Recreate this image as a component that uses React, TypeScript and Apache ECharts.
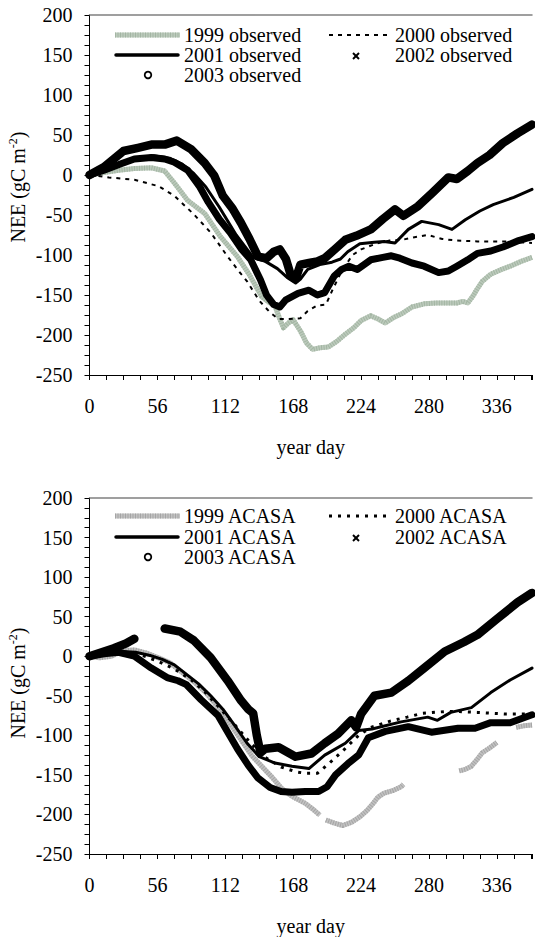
import React, { useEffect, useRef } from "react";
import * as echarts from "echarts";

const FONT = "Liberation Serif";

// x: year day, y: NEE (gC m-2)
const xTicks = [0, 56, 112, 168, 224, 280, 336];
const yTicks = [-250, -200, -150, -100, -50, 0, 50, 100, 150, 200];

// ---- observed (top panel) ----
const obs1999 = [[0,0],[12,3],[24,6],[37,8],[51,9],[62,5],[70,-10],[81,-32],[95,-48],[108,-77],[122,-102],[132,-125],[142,-152],[147,-158],[153,-164],[157,-180],[160,-191],[164,-185],[168,-181],[174,-195],[179,-210],[184,-218],[190,-216],[197,-215],[204,-208],[211,-199],[218,-191],[224,-182],[232,-176],[238,-180],[244,-185],[251,-178],[258,-173],[266,-165],[276,-161],[286,-160],[296,-160],[303,-160],[308,-158],[312,-160],[316,-152],[320,-142],[324,-133],[331,-124],[340,-118],[347,-114],[356,-108],[365,-103]];
const obs2000 = [[0,0],[16,-3],[37,-6],[57,-14],[70,-26],[86,-49],[100,-72],[113,-100],[123,-120],[130,-133],[140,-157],[149,-172],[156,-180],[164,-180],[174,-179],[180,-170],[188,-163],[195,-162],[200,-145],[208,-120],[217,-100],[224,-93],[236,-86],[247,-82],[258,-81],[267,-78],[279,-75],[291,-80],[303,-82],[320,-83],[331,-83],[347,-83],[365,-85]];
const obs2001 = [[0,0],[14,7],[27,15],[39,21],[53,24],[66,21],[76,14],[86,2],[96,-15],[107,-40],[121,-75],[135,-103],[145,-108],[155,-117],[163,-128],[170,-135],[174,-130],[180,-118],[190,-112],[200,-109],[207,-105],[213,-96],[223,-86],[235,-84],[243,-83],[252,-85],[263,-68],[274,-58],[288,-62],[299,-68],[310,-56],[322,-45],[333,-37],[350,-28],[365,-18]];
const obs2002 = [[0,0],[12,6],[26,14],[37,20],[51,22],[62,20],[70,16],[81,6],[91,-15],[98,-34],[107,-55],[116,-72],[125,-92],[133,-106],[141,-131],[146,-150],[152,-162],[157,-165],[162,-156],[172,-148],[181,-144],[188,-150],[194,-147],[202,-126],[208,-118],[214,-114],[221,-118],[232,-106],[242,-103],[249,-101],[256,-104],[266,-110],[276,-114],[288,-122],[296,-120],[303,-114],[312,-106],[320,-98],[331,-95],[341,-90],[354,-82],[365,-77]];
const obs2003 = [[0,0],[12,10],[28,30],[40,34],[51,38],[62,38],[72,43],[84,32],[95,15],[103,-1],[110,-26],[118,-42],[125,-60],[132,-80],[139,-102],[146,-104],[152,-96],[157,-93],[162,-105],[166,-125],[170,-130],[174,-112],[181,-110],[188,-108],[194,-104],[203,-92],[211,-81],[220,-76],[232,-68],[242,-55],[252,-43],[259,-51],[271,-39],[283,-22],[296,-3],[303,-5],[312,5],[320,15],[330,25],[341,40],[353,52],[365,63]];

// ---- ACASA (bottom panel) ----
const aca1999 = [[0,0],[8,-2],[18,0],[28,7],[37,8],[47,4],[57,-2],[66,-8],[76,-20],[86,-32],[96,-46],[107,-66],[119,-92],[134,-126],[150,-152],[159,-168],[167,-177],[178,-186],[184,-193],[190,-201],[192,null],[195,-207],[202,-211],[209,-214],[216,-210],[223,-203],[229,-195],[234,-186],[238,-178],[243,-173],[250,-170],[257,-165],[259,-162],[282,null],[305,-145],[310,-143],[315,-139],[320,-130],[324,-122],[330,-116],[336,-109],[344,null],[352,-90],[358,-88],[365,-87]];
const aca2000 = [[0,0],[14,3],[28,5],[42,2],[56,-6],[70,-16],[84,-30],[95,-45],[106,-63],[120,-87],[133,-110],[145,-128],[158,-140],[170,-146],[178,-148],[188,-148],[198,-135],[210,-118],[222,-100],[232,-90],[248,-82],[262,-77],[275,-72],[293,-70],[305,-70],[320,-71],[342,-73],[365,-73]];
const aca2001 = [[0,0],[13,3],[26,6],[38,5],[50,1],[60,-4],[70,-11],[80,-23],[90,-35],[100,-50],[110,-67],[120,-88],[130,-110],[140,-127],[153,-135],[167,-139],[181,-142],[194,-125],[211,-110],[222,-94],[233,-92],[257,-83],[279,-77],[287,-81],[298,-71],[315,-65],[331,-46],[347,-30],[365,-15]];
const aca2002 = [[0,0],[12,3],[24,5],[37,0],[51,-15],[64,-27],[73,-31],[80,-36],[92,-55],[106,-75],[122,-117],[131,-138],[139,-154],[149,-166],[158,-171],[167,-172],[178,-171],[189,-171],[196,-165],[203,-150],[213,-136],[222,-125],[230,-103],[244,-95],[263,-89],[282,-96],[304,-91],[318,-91],[331,-84],[347,-84],[365,-74]];
const aca2003 = [[0,0],[10,5],[20,10],[30,16],[37,22],[50,null],[62,35],[75,31],[86,20],[100,-2],[114,-31],[125,-56],[131,-67],[135,-72],[138,-100],[141,-122],[145,-117],[156,-115],[170,-127],[183,-123],[194,-110],[205,-98],[216,-81],[220,-90],[224,-73],[235,-50],[249,-46],[263,-31],[276,-15],[293,6],[309,18],[320,27],[336,47],[353,68],[365,80]];

const topLabels = ["1999 observed", "2000 observed", "2001 observed", "2002 observed", "2003 observed"];
const bottomLabels = ["1999 ACASA", "2000 ACASA", "2001 ACASA", "2002 ACASA", "2003 ACASA"];

const GRIDS = [
  { top: 15, height: 360 },
  { top: 498, height: 361 },
];

const PAL = [
  { grayBase: "#bccabc", grayStripe: "#a3b5a3", dash: [4, 5], dashW: 2 },
  { grayBase: "#c2c2c2", grayStripe: "#a5a5a5", dash: [3, 6], dashW: 3 },
];

function xAxisFor(gi: number) {
  return {
    type: "value",
    gridIndex: gi,
    min: 0,
    max: 365,
    interval: 14,
    axisLine: { onZero: false, lineStyle: { color: "#000", width: 1 } },
    axisTick: { length: 5, lineStyle: { color: "#000", width: 1 } },
    axisLabel: {
      formatter: (v: number) => (xTicks.indexOf(v) >= 0 ? String(v) : ""),
      fontSize: 20,
      fontFamily: FONT,
      color: "#000",
      margin: 21,
    },
    splitLine: { show: false },
    name: "year day",
    nameLocation: "middle",
    nameGap: 62,
    nameTextStyle: { fontSize: 20, fontFamily: FONT, color: "#000" },
  };
}

function topBorderFor(gi: number) {
  return {
    type: "value",
    gridIndex: gi,
    position: "top",
    min: 0,
    max: 365,
    axisLine: { onZero: false, lineStyle: { color: "#808080", width: 1.5 } },
    axisTick: { show: false },
    axisLabel: { show: false },
    splitLine: { show: false },
  };
}

function yAxisFor(gi: number) {
  return {
    type: "value",
    gridIndex: gi,
    min: -250,
    max: 200,
    interval: 12.5,
    axisLine: { onZero: false, lineStyle: { color: "#000", width: 1 } },
    axisTick: { length: 5, lineStyle: { color: "#000", width: 1 } },
    axisLabel: {
      formatter: (v: number) => (yTicks.indexOf(v) >= 0 ? String(v) : ""),
      fontSize: 20,
      fontFamily: FONT,
      color: "#000",
      margin: 17,
    },
    splitLine: { show: false },
  };
}

function seriesFor(gi: number, names: string[], sets: any[][]) {
  const p = PAL[gi];
  const base = { type: "line", xAxisIndex: gi, yAxisIndex: gi, symbol: "none", silent: true, connectNulls: false };
  return [
    { ...base, name: names[0], data: sets[0], lineStyle: { color: p.grayBase, width: 5, cap: "butt", join: "round" } },
    { ...base, name: names[0] + " texture", data: sets[0], lineStyle: { color: p.grayStripe, width: 5, type: [1, 1.5], cap: "butt", join: "round" } },
    { ...base, name: names[1], data: sets[1], lineStyle: { color: "#000", width: p.dashW, type: p.dash, cap: "butt" } },
    { ...base, name: names[2], data: sets[2], lineStyle: { color: "#000", width: 3, cap: "round", join: "round" } },
    { ...base, name: names[3], data: sets[3], lineStyle: { color: "#000", width: 7, cap: "round", join: "round" } },
    { ...base, name: names[4], data: sets[4], lineStyle: { color: "#000", width: 8.5, cap: "round", join: "round" } },
  ];
}

function legendFor(gi: number, names: string[], rows: number[]) {
  const p = PAL[gi];
  const tx1 = 184, tx2 = 395;
  const txt = (x: number, y: number, s: string) => ({
    type: "text",
    x,
    y,
    style: { text: s, fontSize: 20, fontFamily: FONT, fill: "#000", textVerticalAlign: "middle", textAlign: "left" },
  });
  const xm = 356, ym = rows[1] + 1;
  return [
    { type: "line", shape: { x1: 115, y1: rows[0], x2: 180, y2: rows[0] }, style: { stroke: p.grayBase, lineWidth: 5 } },
    { type: "line", shape: { x1: 115, y1: rows[0], x2: 180, y2: rows[0] }, style: { stroke: p.grayStripe, lineWidth: 5, lineDash: [1, 1.5] } },
    txt(tx1, rows[0], names[0]),
    { type: "line", shape: { x1: 329, y1: rows[0], x2: 392, y2: rows[0] }, style: { stroke: "#000", lineWidth: p.dashW, lineDash: p.dash } },
    txt(tx2, rows[0], names[1]),
    { type: "line", shape: { x1: 116, y1: rows[1], x2: 178, y2: rows[1] }, style: { stroke: "#000", lineWidth: 3.5, lineCap: "round" } },
    txt(tx1, rows[1], names[2]),
    { type: "line", shape: { x1: xm - 3, y1: ym - 3, x2: xm + 3, y2: ym + 3 }, style: { stroke: "#000", lineWidth: 2 } },
    { type: "line", shape: { x1: xm - 3, y1: ym + 3, x2: xm + 3, y2: ym - 3 }, style: { stroke: "#000", lineWidth: 2 } },
    txt(tx2, rows[1], names[3]),
    { type: "circle", shape: { cx: 148, cy: rows[2], r: 3.3 }, style: { fill: "#fff", stroke: "#000", lineWidth: 1.8 } },
    txt(tx1, rows[2], names[4]),
  ];
}

function yNameFor(cy: number) {
  return {
    type: "text",
    x: 18,
    y: cy,
    rotation: Math.PI / 2,
    style: {
      text: "{a|NEE (gC m}{s|-2}{a|)}",
      rich: {
        a: { fontSize: 20, fontFamily: FONT, fill: "#000", lineHeight: 22 },
        s: { fontSize: 12, fontFamily: FONT, fill: "#000", verticalAlign: "top", lineHeight: 14 },
      },
      fontFamily: FONT,
      textAlign: "center",
      textVerticalAlign: "middle",
    },
  };
}

export default function App() {
  const ref = useRef<HTMLDivElement>(null);
  useEffect(() => {
    if (!ref.current) return;
    const chart = echarts.init(ref.current, undefined, { renderer: "svg" });
    chart.setOption({
      animation: false,
      backgroundColor: "#fff",
      textStyle: { fontFamily: FONT },
      grid: GRIDS.map((g) => ({ left: 89.5, right: 0, top: g.top, height: g.height, containLabel: false })),
      xAxis: [xAxisFor(0), xAxisFor(1), topBorderFor(0), topBorderFor(1)],
      yAxis: [yAxisFor(0), yAxisFor(1)],
      series: [
        ...seriesFor(0, topLabels, [obs1999, obs2000, obs2001, obs2002, obs2003]),
        ...seriesFor(1, bottomLabels, [aca1999, aca2000, aca2001, aca2002, aca2003]),
      ],
      graphic: [
        ...legendFor(0, topLabels, [35, 55, 75]),
        ...legendFor(1, bottomLabels, [516, 537, 557]),
        yNameFor(187),
        yNameFor(683),
      ],
    });
    return () => chart.dispose();
  }, []);
  return (
    <div style={{ position: "fixed", left: 0, top: 0, width: 535, height: 937, overflow: "hidden", background: "#fff" }}>
      <div ref={ref} style={{ width: 535, height: 937 }} />
    </div>
  );
}
